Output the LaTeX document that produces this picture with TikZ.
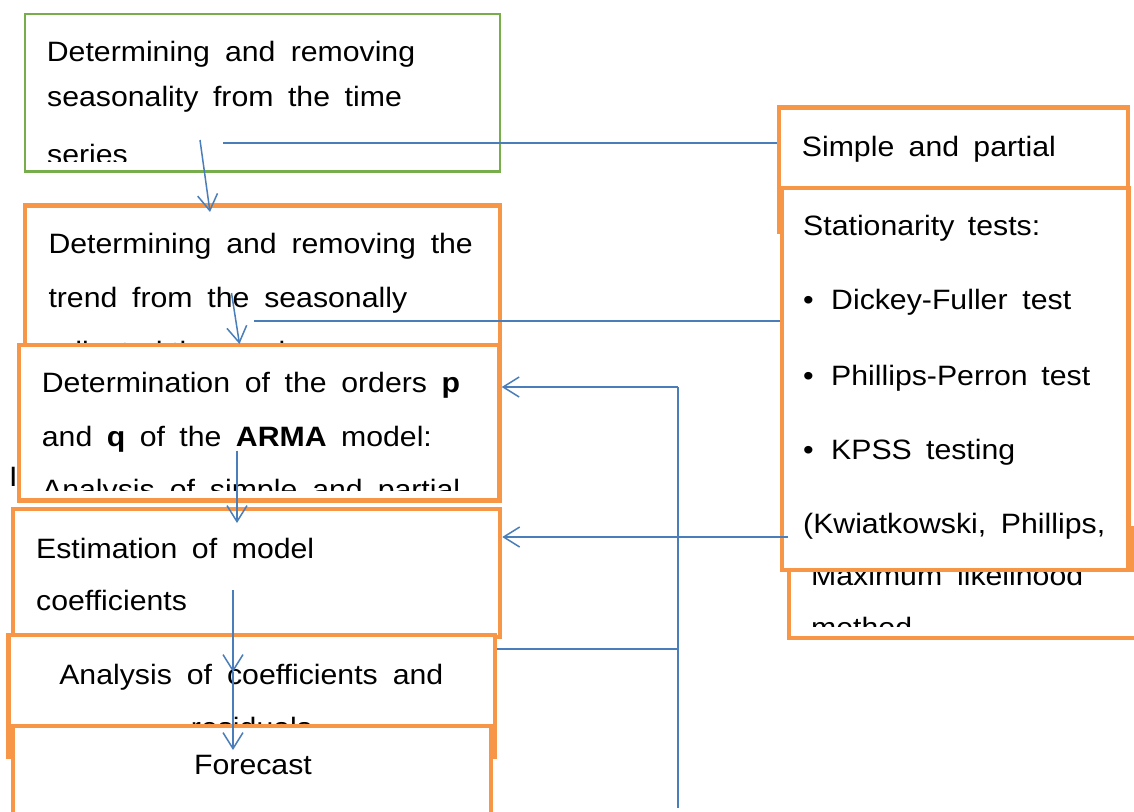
\documentclass[tikz,border=0pt]{standalone}
\usepackage{fontspec}
\setmainfont[FakeStretch=1.08]{Liberation Sans}
\usetikzlibrary{arrows.meta}
\definecolor{boxorange}{HTML}{F79646}
\definecolor{boxgreen}{HTML}{77AD4B}
\definecolor{linkblue}{HTML}{4A7EBB}
\newcommand\diagfont{\fontsize{28}{34}\selectfont}
\newcommand\jl[2]{\makebox[#1pt][s]{#2}}
\begin{document}
\begin{tikzpicture}[x=1pt,y=-1pt,
  obox/.style={rectangle, inner sep=0pt, fill=white, draw=boxorange, line width=4.5pt},
  gbox/.style={obox, draw=boxgreen, line width=2.3pt},
  txt/.style={anchor=base west, inner sep=0pt, font=\diagfont},
  ctxt/.style={anchor=base, inner sep=0pt, font=\diagfont},
  conn/.style={draw=linkblue, line width=1.5pt},
  arr/.style={conn, -{Straight Barb[length=16pt,width=20pt]}}]
\useasboundingbox (0,0) rectangle (1134,811);
\fill[white] (0,0) rectangle (1134,811);
\clip (0,0) rectangle (1134,811);

% ---- left column ----
\node[gbox, minimum width=475pt, minimum height=157.5pt] (season) at (262.5,92.75) {};
\begin{scope}
  \clip (25,14) rectangle (500,161);
  \node[txt] (season1) at (46.7,61.7) {\jl{368.3}{Determining and removing}};
  \node[txt] (season2) at (47,106.5) {\jl{354.7}{seasonality from the time}};
  \node[txt] (season3) at (47,164) {series};
\end{scope}

\node[obox, minimum width=475pt, minimum height=154.5pt] (trend) at (262.5,282.75) {};
\begin{scope}
  \clip (25,205.5) rectangle (500,349);
  \node[txt] (trend1) at (48.3,253.3) {\jl{424.4}{Determining and removing the}};
  \node[txt] (trend2) at (48.3,307.3) {\jl{358.7}{trend from the seasonally}};
  \node[txt] (trend3) at (48.3,361) {adjusted time series};
\end{scope}

\node[txt] (stray) at (9,486) {In};

\node[obox, minimum width=480.5pt, minimum height=155.5pt] (arma) at (259.25,422.75) {};
\begin{scope}
  \clip (19,345) rectangle (499.5,490);
  \node[txt] (arma1) at (41.7,392.7) {\jl{418.3}{Determination of the orders \textbf{p}}};
  \node[txt] (arma2) at (41.7,446) {\jl{390}{and \textbf{q} of the \textbf{ARMA} model:}};
  \node[txt] (arma3) at (42,499.5) {\jl{418}{Analysis of simple and partial}};
\end{scope}

\node[obox, minimum width=487pt, minimum height=128pt] (estim) at (256.5,573) {};
\node[txt] (estim1) at (36,558.3) {\jl{278}{Estimation of model}};
\node[txt] (estim2) at (36,610) {coefficients};

\node[obox, minimum width=486.5pt, minimum height=122pt] (resid) at (251.75,696) {};
\begin{scope}
  \clip (8.5,635) rectangle (495,746);
  \node[ctxt] (resid1) at (251.3,684) {\jl{384}{Analysis of coefficients and}};
  \node[ctxt] (resid2) at (251.5,737) {residuals};
\end{scope}

\node[obox, minimum width=478pt, minimum height=104pt] (forecast) at (252,778) {};
\node[ctxt] (forecast1) at (253,774) {Forecast};

% ---- right column ----
\node[obox, minimum width=349pt, minimum height=124.5pt] (acf) at (953.5,169.75) {};
\node[txt] (acf1) at (801.7,156) {\jl{254}{Simple and partial}};

\node[obox, minimum width=351pt, minimum height=110pt] (mle) at (964.5,583) {};
\begin{scope}
  \clip (789,528) rectangle (1140,626);
  \node[txt] (mle1) at (811,585) {\jl{272}{Maximum likelihood}};
  \node[txt] (mle2) at (811,637) {method};
\end{scope}
\draw[boxorange, line width=4.5pt] (1132.5,528) -- (1132.5,572);

\node[obox, minimum width=346.5pt, minimum height=382pt] (stat) at (955.25,379) {};
\node[txt] (stat1) at (803,235.7) {\jl{237}{Stationarity tests:}};
\node[txt] (bul1) at (803,309) {•};
\node[txt] (stat2) at (831,309) {\jl{240}{Dickey-Fuller test}};
\node[txt] (bul2) at (803,385) {•};
\node[txt] (stat3) at (831,385) {\jl{259}{Phillips-Perron test}};
\node[txt] (bul3) at (803,459) {•};
\node[txt] (stat4) at (831,459) {\jl{184}{KPSS testing}};
\node[txt] (stat5) at (803,533) {\jl{302}{(Kwiatkowski, Phillips,}};

% ---- connectors ----
\coordinate (c1s) at (200,140);
\coordinate (c1e) at (210,212);
\coordinate (c2s) at (223,143);
\coordinate (c3s) at (231.5,293);
\coordinate (c3e) at (239.5,344);
\coordinate (c4s) at (254,321);
\coordinate (c5s) at (237,450.5);
\coordinate (c5e) at (237,523);
\coordinate (c6s) at (233,590);
\coordinate (c6e) at (233,672);
\coordinate (c7e) at (233,750);
\coordinate (fbTop) at (678,387);
\coordinate (fbBot) at (678,808);
\coordinate (c9s) at (788,537);
\coordinate (c10e) at (678,649);

\draw[arr] (c1s) -- (c1e);
\draw[conn] (c2s) -- (acf.west |- c2s);
\draw[arr] (c3s) -- (c3e);
\draw[conn] (c4s) -- (stat.west |- c4s);
\draw[arr] (c5s) -- (c5e);
\draw[arr] (c6s) -- (c6e);
\draw[arr] (c6e) -- (c7e);
\draw[conn] (fbBot) -- (fbTop);
\draw[arr] (fbTop) -- (arma.east |- fbTop);
\draw[arr] (c9s) -- (estim.east |- c9s);
\draw[conn] (resid.east |- c10e) -- (c10e);
\end{tikzpicture}
\end{document}
